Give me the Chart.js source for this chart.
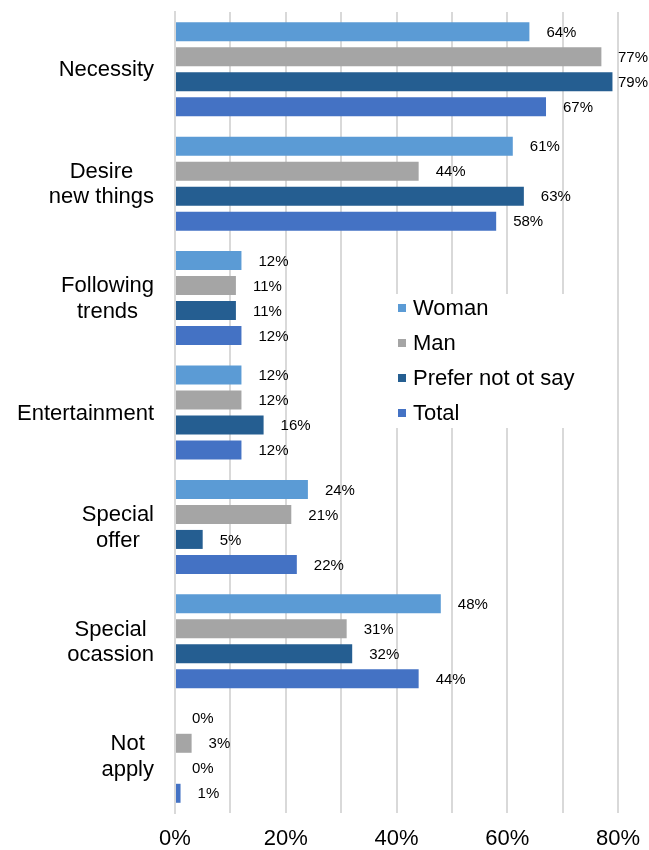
<!DOCTYPE html>
<html lang="en">
<head>
  <meta charset="UTF-8">
  <title>Reasons for purchase by gender</title>
  <script src="https://cdn.jsdelivr.net/npm/chart.js"></script>
  <style>
    body {
      margin: 0;
      background: white;
    }
    canvas {
      display: block;
    }
  </style>
</head>
<body>

<canvas id="reasonsChart" width="649" height="850"></canvas>

<script>
  // categories (multi-line labels as they appear on the axis)
  const categories = [
    ["Necessity"],
    ["Desire", "new things"],
    ["Following", "trends"],
    ["Entertainment"],
    ["Special", "offer"],
    ["Special", "ocassion"],
    ["Not", "apply"]
  ];

  const seriesNames = ["Woman", "Man", "Prefer not ot say", "Total"];
  const woman  = [64, 61, 12, 12, 24, 48, 0];
  const man    = [77, 44, 11, 12, 21, 31, 3];
  const prefer = [79, 63, 11, 16, 5, 32, 0];
  const total  = [67, 58, 12, 12, 22, 44, 1];

  const xTicks = [0, 20, 40, 60, 80];

  const colors = ["#5B9BD5", "#A5A5A5", "#255E91", "#4472C4"];
  const FONT = "'Liberation Sans', Arial, sans-serif";

  // value labels at the end of each bar
  const valueLabels = {
    id: "valueLabels",
    afterDatasetsDraw(chart) {
      const ctx = chart.ctx;
      ctx.save();
      ctx.font = "15px " + FONT;
      ctx.fillStyle = "#000";
      ctx.textBaseline = "middle";
      ctx.textAlign = "left";
      chart.data.datasets.forEach((ds, i) => {
        chart.getDatasetMeta(i).data.forEach((bar, j) => {
          const txt = ds.data[j] + "%";
          const w = ctx.measureText(txt).width;
          let x = bar.x + 17;
          if (x + w > chart.width - 1) x = chart.width - 1 - w;
          ctx.fillText(txt, x, bar.y + 1);
        });
      });
      ctx.restore();
    }
  };

  // category labels: block right aligned, lines centred inside the block
  const categoryLabels = {
    id: "categoryLabels",
    afterDraw(chart) {
      const ctx = chart.ctx;
      const yScale = chart.scales.y;
      const right = 154;
      const lineH = 25.5;
      ctx.save();
      ctx.font = "22px " + FONT;
      ctx.fillStyle = "#000";
      ctx.textBaseline = "middle";
      ctx.textAlign = "center";
      chart.data.labels.forEach((lines, i) => {
        const yc = yScale.getPixelForValue(i);
        const blockW = Math.max(...lines.map(l => ctx.measureText(l).width));
        const cx = right - blockW / 2;
        const y0 = yc - (lines.length - 1) * lineH / 2;
        lines.forEach((l, k) => ctx.fillText(l, cx, y0 + k * lineH + 1));
      });
      ctx.restore();
    }
  };

  // legend sitting inside the plot area
  const innerLegend = {
    id: "innerLegend",
    afterDraw(chart) {
      const ctx = chart.ctx;
      ctx.save();
      ctx.fillStyle = "#fff";
      ctx.fillRect(392, 294, 198, 134);
      ctx.font = "22px " + FONT;
      ctx.textBaseline = "middle";
      ctx.textAlign = "left";
      chart.data.datasets.forEach((ds, i) => {
        const y = 308 + i * 35;
        ctx.fillStyle = ds.backgroundColor;
        ctx.fillRect(398, y - 4, 8, 8);
        ctx.fillStyle = "#000";
        ctx.fillText(ds.label, 413, y + 1);
      });
      ctx.restore();
    }
  };

  const seriesData = [woman, man, prefer, total];

  new Chart(document.getElementById("reasonsChart"), {
    type: "bar",
    data: {
      labels: categories,
      datasets: seriesNames.map((name, i) => ({
        label: name,
        data: seriesData[i],
        backgroundColor: colors[i],
        borderWidth: 0,
        categoryPercentage: 0.874,
        barPercentage: 0.76
      }))
    },
    options: {
      indexAxis: "y",
      responsive: false,
      animation: false,
      layout: { padding: { top: 12, right: 31, bottom: 0, left: 0 } },
      plugins: {
        legend: { display: false },
        tooltip: { enabled: false }
      },
      scales: {
        x: {
          min: 0,
          max: 80,
          afterBuildTicks(scale) {
            const t = [];
            for (let v = 0; v <= 80; v += 10) t.push({ value: v });
            scale.ticks = t;
          },
          afterFit(scale) {
            scale.height = 37;
            scale.paddingLeft = 0;
            scale.paddingRight = 0;
            scale.paddingTop = 0;
            scale.paddingBottom = 0;
          },
          ticks: {
            autoSkip: false,
            maxRotation: 0,
            padding: 15,
            color: "#000",
            font: { family: FONT, size: 22, lineHeight: 1 },
            callback: v => xTicks.includes(v) ? v + "%" : ""
          },
          grid: {
            color: "#d9d9d9",
            lineWidth: 2,
            drawTicks: false
          },
          border: { display: false }
        },
        y: {
          ticks: { display: false },
          grid: { display: false },
          border: { display: true, color: "#d9d9d9", width: 2 },
          afterFit(scale) {
            scale.width = 175;
            scale.paddingTop = 0;
            scale.paddingBottom = 0;
          }
        }
      }
    },
    plugins: [valueLabels, categoryLabels, innerLegend]
  });
</script>

</body>
</html>
